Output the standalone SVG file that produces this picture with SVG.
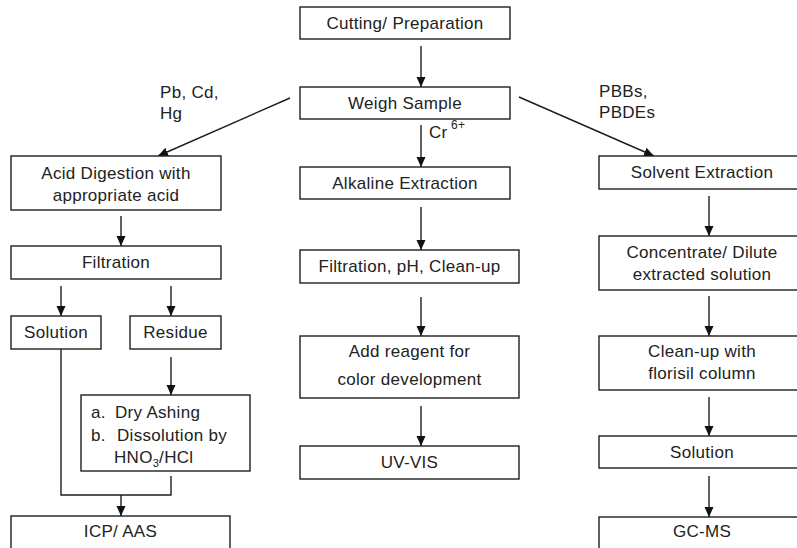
<svg xmlns="http://www.w3.org/2000/svg" width="797" height="548" viewBox="0 0 797 548">
<defs>
<style>
.box{fill:#fff;stroke:#1e1e1e;stroke-width:1.4}
.t{font-family:"Liberation Sans",Arial,sans-serif;font-size:17px;fill:#222;text-anchor:middle;letter-spacing:0.3px}
.l{font-family:"Liberation Sans",Arial,sans-serif;font-size:17px;fill:#222;letter-spacing:0.3px}
.c{fill:none;stroke:#1e1e1e;stroke-width:1.4}
</style>
<marker id="ah" markerUnits="userSpaceOnUse" markerWidth="11" markerHeight="10" refX="10" refY="4.5" orient="auto">
<path d="M0,0 L10,4.5 L0,9 z" fill="#111"/>
</marker>
</defs>
<rect width="797" height="548" fill="#fff"/>

<g id="connectors">
<line class="c" x1="421" y1="46" x2="421" y2="87" marker-end="url(#ah)"/>
<line class="c" x1="290" y1="98" x2="158" y2="156" marker-end="url(#ah)"/>
<line class="c" x1="519" y1="97" x2="654" y2="156" marker-end="url(#ah)"/>
<line class="c" x1="421" y1="125" x2="421" y2="167" marker-end="url(#ah)"/>
<line class="c" x1="421" y1="207" x2="421" y2="250" marker-end="url(#ah)"/>
<line class="c" x1="421" y1="297" x2="421" y2="336" marker-end="url(#ah)"/>
<line class="c" x1="421" y1="406" x2="421" y2="446" marker-end="url(#ah)"/>
<line class="c" x1="709" y1="196" x2="709" y2="236" marker-end="url(#ah)"/>
<line class="c" x1="709" y1="296" x2="709" y2="336" marker-end="url(#ah)"/>
<line class="c" x1="709" y1="397" x2="709" y2="436" marker-end="url(#ah)"/>
<line class="c" x1="709" y1="476" x2="709" y2="517" marker-end="url(#ah)"/>
<line class="c" x1="121" y1="216" x2="121" y2="246" marker-end="url(#ah)"/>
<line class="c" x1="61" y1="286" x2="61" y2="316" marker-end="url(#ah)"/>
<line class="c" x1="171" y1="286" x2="171" y2="316" marker-end="url(#ah)"/>
<line class="c" x1="171" y1="357" x2="171" y2="395" marker-end="url(#ah)"/>
<polyline class="c" points="61,349 61,495 171,495 171,476"/>
<line class="c" x1="121" y1="495" x2="121" y2="516" marker-end="url(#ah)"/>
<text class="l" x="160" y="98">Pb, Cd,</text>
<text class="l" x="160" y="119">Hg</text>
<text class="l" x="599" y="97">PBBs,</text>
<text class="l" x="599" y="118">PBDEs</text>
<text class="l" x="429" y="138">Cr</text>
<text class="l" x="451" y="129" style="font-size:12px">6+</text>
</g>

<g id="cutting"><rect class="box" x="300" y="7" width="210" height="32"/><text class="t" x="405" y="29">Cutting/ Preparation</text></g>
<g id="weigh"><rect class="box" x="300" y="87" width="210" height="32"/><text class="t" x="405" y="109">Weigh Sample</text></g>
<g id="alkaline"><rect class="box" x="300" y="167" width="210" height="32"/><text class="t" x="405" y="189">Alkaline Extraction</text></g>
<g id="filtph"><rect class="box" x="300" y="250" width="219" height="33"/><text class="t" x="409.5" y="272">Filtration, pH, Clean-up</text></g>
<g id="reagent"><rect class="box" x="300" y="336" width="219" height="62"/><text class="t" x="409.5" y="357">Add reagent for</text><text class="t" x="409.5" y="385">color development</text></g>
<g id="uvvis"><rect class="box" x="300" y="446" width="219" height="33"/><text class="t" x="409.5" y="468">UV-VIS</text></g>

<g id="acid"><rect class="box" x="11" y="156" width="210" height="54"/><text class="t" x="116" y="179">Acid Digestion with</text><text class="t" x="116" y="201">appropriate acid</text></g>
<g id="filtration"><rect class="box" x="11" y="246" width="210" height="33"/><text class="t" x="116" y="268">Filtration</text></g>
<g id="solution-left"><rect class="box" x="11" y="316" width="90" height="33"/><text class="t" x="56" y="338">Solution</text></g>
<g id="residue"><rect class="box" x="130" y="316" width="91" height="33"/><text class="t" x="175.5" y="338">Residue</text></g>
<g id="dryashing"><rect class="box" x="81" y="395" width="169" height="76"/>
<text class="l" x="91" y="418">a.</text><text class="l" x="115" y="418">Dry Ashing</text>
<text class="l" x="91" y="441">b.</text><text class="l" x="117" y="441">Dissolution by</text>
<text class="l" x="114" y="463">HNO<tspan dy="4" style="font-size:11px">3</tspan><tspan dy="-4">/HCl</tspan></text>
</g>
<g id="icp"><rect class="box" x="11" y="516" width="219" height="40"/><text class="t" x="120.5" y="537">ICP/ AAS</text></g>

<g id="solvent"><rect class="box" x="599" y="156" width="206" height="33"/><text class="t" x="702" y="178">Solvent Extraction</text></g>
<g id="concentrate"><rect class="box" x="599" y="236" width="206" height="54"/><text class="t" x="702" y="258">Concentrate/ Dilute</text><text class="t" x="702" y="280">extracted solution</text></g>
<g id="cleanup"><rect class="box" x="599" y="336" width="206" height="54"/><text class="t" x="702" y="357">Clean-up with</text><text class="t" x="702" y="379">florisil column</text></g>
<g id="solution-right"><rect class="box" x="599" y="436" width="206" height="32"/><text class="t" x="702" y="458">Solution</text></g>
<g id="gcms"><rect class="box" x="599" y="517" width="206" height="40"/><text class="t" x="702" y="537">GC-MS</text></g>
</svg>
